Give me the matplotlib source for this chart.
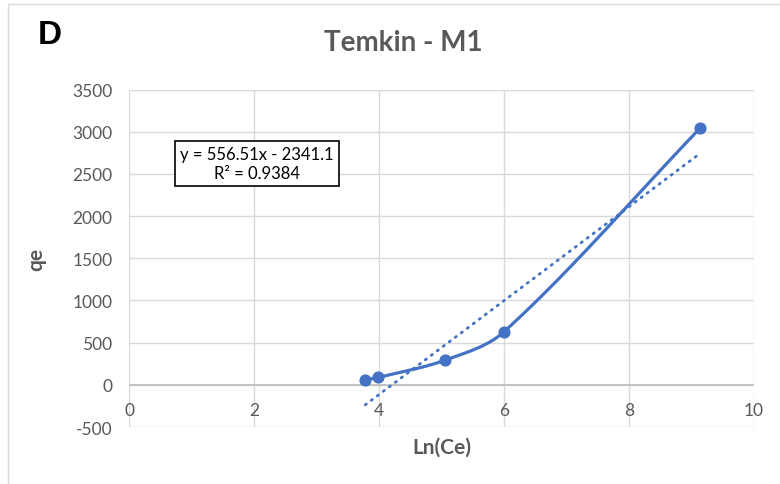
import numpy as np
import matplotlib.pyplot as plt
from matplotlib.patches import Rectangle

# Temkin isotherm, M1
ln_ce = [3.78, 3.99, 5.06, 6.00, 9.14]
qe = [59, 88, 293, 629, 3045]

slope = 556.51
intercept = -2341.1
r2 = 0.9384

blue = '#4472C4'
grey = '#595959'


def smooth_curve(xs, ys, sx=62.5, sy=0.0843, n=50):
    # Bezier segments through the points; tangents taken in screen-like units
    # so the curve bends the same way the eye sees it
    P = np.column_stack([np.asarray(xs, float) * sx, np.asarray(ys, float) * sy])
    m = len(P)
    tang = np.zeros_like(P)
    for i in range(m):
        a = P[max(i - 1, 0)]
        b = P[min(i + 1, m - 1)]
        d = b - a
        tang[i] = d / np.hypot(*d)
    t = np.linspace(0, 1, n)[:, None]
    pts = []
    for i in range(m - 1):
        L = np.hypot(*(P[i + 1] - P[i])) / 3
        c1 = P[i] + tang[i] * L
        c2 = P[i + 1] - tang[i + 1] * L
        b = (1 - t) ** 3 * P[i] + 3 * (1 - t) ** 2 * t * c1 \
            + 3 * (1 - t) * t ** 2 * c2 + t ** 3 * P[i + 1]
        pts.append(b)
    pts = np.vstack(pts)
    return pts[:, 0] / sx, pts[:, 1] / sy


plt.rcParams['font.family'] = ['Lato', 'DejaVu Sans']
plt.rcParams['axes.unicode_minus'] = False

fig = plt.figure(figsize=(7.8, 4.85), dpi=100)
ax = fig.add_axes([0.1654, 0.1175, 0.8013, 0.6957])

fig.patches.append(Rectangle((8 / 780, -0.01), 1.0, 1 - 5 / 485 + 0.01,
                             transform=fig.transFigure, fill=False,
                             edgecolor='#d9d9d9', lw=1.0))

cx, cy = smooth_curve(ln_ce, qe)
ax.plot(cx, cy, color=blue, lw=2.3, zorder=3, solid_capstyle='round')
ax.scatter(ln_ce, qe, s=60, color=blue, zorder=4)

tx = np.array([min(ln_ce), max(ln_ce)])
ax.plot(tx, slope * tx + intercept, color=blue, lw=2.0,
        linestyle=(0, (0.5, 2.2)), dash_capstyle='round', zorder=3)

ax.set_xlim(0, 10)
ax.set_ylim(-500, 3500)
ax.set_xticks(range(0, 11, 2))
ax.set_yticks(range(-500, 3501, 500))
ax.grid(True, color='#d9d9d9', lw=1.0)
ax.set_axisbelow(True)
for s in ax.spines.values():
    s.set_visible(False)
ax.axhline(0, color='#bfbfbf', lw=1.3, zorder=2)
ax.tick_params(length=0, labelsize=12.5, labelcolor=grey)
ax.tick_params(axis='x', pad=-18)
ax.tick_params(axis='y', pad=12)

ax.set_xlabel('Ln(Ce)', fontsize=15, fontweight='bold', color=grey)
ax.xaxis.set_label_coords(0.5, -0.028)
ax.set_ylabel('qe', fontsize=15, fontweight='bold', color=grey)
ax.yaxis.set_label_coords(-0.132, 0.5)

fig.text(403 / 780, 1 - 43 / 485, 'Temkin - M1', ha='center', va='center',
         fontsize=20, fontweight='bold', color=grey)
fig.text(38 / 780, 1 - 35 / 485, 'D', ha='left', va='center',
         fontsize=24, fontweight='bold', color='black', family='Liberation Sans')

ax.text(0.205, 0.78, f'y = {slope}x - {abs(intercept)}\nR² = {r2}',
        transform=ax.transAxes, ha='center', va='center', fontsize=12,
        linespacing=1.25, color='black',
        bbox=dict(boxstyle='square,pad=0.3', fc='white', ec='black', lw=1.2))

fig.savefig('out.png', dpi=100)
